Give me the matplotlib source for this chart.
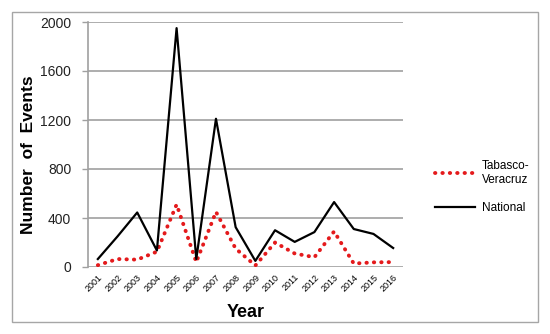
import matplotlib.pyplot as plt
from matplotlib.patches import Rectangle

plt.rcParams['font.family'] = ['Liberation Sans', 'DejaVu Sans']

years = list(range(2001, 2017))
national = [65, 250, 445, 135, 1950, 65, 1210, 325, 50, 300, 205, 285, 530, 310, 270, 155]
tabasco = [15, 65, 60, 125, 510, 40, 450, 150, 12, 200, 110, 80, 290, 28, 38, 40]
yticks = [0, 400, 800, 1200, 1600, 2000]

fig = plt.figure(figsize=(5.5, 3.34), dpi=100)
ax = fig.add_axes([88 / 550, 1 - 267 / 334, 315 / 550, 245 / 334])

# outer frame round the whole chart
fig.patches.append(Rectangle((12 / 550, 1 - 322 / 334), 526 / 550, 310 / 334,
                             transform=fig.transFigure, fill=False,
                             edgecolor='#a6a6a6', linewidth=1.0))

ax.plot(years, tabasco, color='#e41a1c', lw=2.8, linestyle=(0, (0.1, 1.8)),
        dash_capstyle='round', solid_capstyle='round', label='Tabasco-\nVeracruz', zorder=3)
ax.plot(years, national, color='black', lw=1.6, label='National', zorder=4)

ax.set_xlim(2000.5, 2016.5)
ax.set_ylim(0, 2000)
ax.set_yticks(yticks)
ax.set_yticklabels([str(v) for v in yticks], fontsize=10, color='#222222')
ax.set_xticks(years)
ax.set_xticklabels([str(y) for y in years], rotation=45, ha='right',
                   rotation_mode='anchor', fontsize=6.5)
ax.tick_params(axis='x', length=0, pad=4)
ax.tick_params(axis='y', length=4, color='#a0a0a0', width=1, pad=8)
ax.grid(axis='y', color='#a0a0a0', lw=1.2)
ax.set_axisbelow(True)
for s in ['top', 'right', 'bottom']:
    ax.spines[s].set_visible(False)
ax.spines['left'].set_color('#a0a0a0')
ax.spines['left'].set_linewidth(1.2)

ax.set_ylabel('Number  of  Events', fontsize=12.5, fontweight='bold', labelpad=3, y=0.46)
ax.set_xlabel('Year', fontsize=13, fontweight='bold', labelpad=8)

ax.legend(loc='upper left', bbox_to_anchor=(435 / 550, 1 - 160 / 334),
          bbox_transform=fig.transFigure, frameon=False, fontsize=8.5,
          borderaxespad=0, borderpad=0, handlelength=3.4, handletextpad=0.6,
          labelspacing=1.4)

fig.savefig('out.png', dpi=100)
